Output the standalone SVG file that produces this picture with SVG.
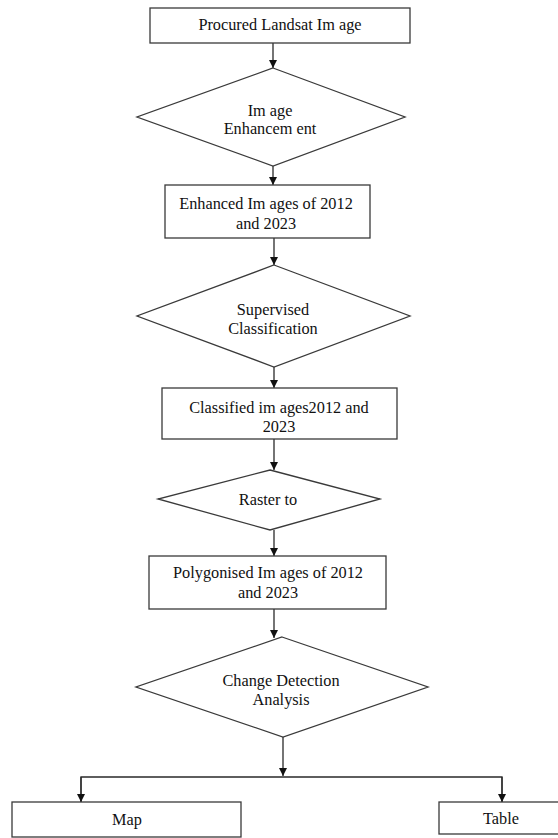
<svg xmlns="http://www.w3.org/2000/svg" width="558" height="838" viewBox="0 0 558 838">
<style>
.n{fill:#fff;stroke:#3a3a3a;stroke-width:1.3}
.t{font-family:"Liberation Serif","Times New Roman",serif;font-size:16.3px;fill:#111;text-anchor:middle}
.c{fill:none;stroke:#2a2a2a;stroke-width:1.3}
</style>
<defs>
<marker id="ah" viewBox="0 0 10 10" refX="10" refY="5" markerWidth="8" markerHeight="8" markerUnits="userSpaceOnUse" orient="auto">
<path d="M0,0 L10,5 L0,10 Z" fill="#111"/>
</marker>
</defs>
<rect width="558" height="838" fill="#fff"/>
<g id="connectors">
<line class="c" x1="273" y1="43" x2="273" y2="68" marker-end="url(#ah)"/>
<line class="c" x1="273" y1="166" x2="273" y2="185" marker-end="url(#ah)"/>
<line class="c" x1="274" y1="238" x2="274" y2="265" marker-end="url(#ah)"/>
<line class="c" x1="274" y1="367" x2="274" y2="388" marker-end="url(#ah)"/>
<line class="c" x1="274" y1="439" x2="274" y2="470" marker-end="url(#ah)"/>
<line class="c" x1="274" y1="530" x2="274" y2="556" marker-end="url(#ah)"/>
<line class="c" x1="274" y1="609" x2="274" y2="638" marker-end="url(#ah)"/>
<line class="c" x1="283" y1="737" x2="283" y2="776" marker-end="url(#ah)"/>
<polyline class="c" points="81,802 81,777 502,777 502,802"/>
<line class="c" x1="81" y1="777" x2="81" y2="802" marker-end="url(#ah)"/>
<line class="c" x1="502" y1="777" x2="502" y2="802" marker-end="url(#ah)"/>
</g>
<g id="procured">
<rect class="n" x="150" y="8" width="260" height="35"/>
<text class="t" x="280" y="30">Procured Landsat Im age</text>
</g>
<g id="enhancement">
<polygon class="n" points="273,68 405,117 273,166 137,117"/>
<text class="t" x="270" y="116">Im age</text>
<text class="t" x="270" y="134">Enhancem ent</text>
</g>
<g id="enhanced">
<rect class="n" x="165" y="185" width="205" height="53"/>
<text class="t" x="266" y="209">Enhanced Im ages of 2012</text>
<text class="t" x="266" y="229">and 2023</text>
</g>
<g id="supervised">
<polygon class="n" points="274,265 410,316 274,367 137,316"/>
<text class="t" x="273" y="315">Supervised</text>
<text class="t" x="273" y="334">Classification</text>
</g>
<g id="classified">
<rect class="n" x="162" y="388" width="235" height="51"/>
<text class="t" x="279" y="413">Classified im ages2012 and</text>
<text class="t" x="279" y="432">2023</text>
</g>
<g id="raster">
<polygon class="n" points="270,470 380,499 270,530 158,499"/>
<text class="t" x="268" y="505">Raster to</text>
</g>
<g id="polygonised">
<rect class="n" x="149" y="556" width="237" height="53"/>
<text class="t" x="268" y="578">Polygonised Im ages of 2012</text>
<text class="t" x="268" y="598">and 2023</text>
</g>
<g id="change">
<polygon class="n" points="282,637 428,687 283,737 136,687"/>
<text class="t" x="281" y="686">Change Detection</text>
<text class="t" x="281" y="705">Analysis</text>
</g>
<g id="map">
<rect class="n" x="12" y="802" width="229" height="35"/>
<text class="t" x="127" y="825">Map</text>
</g>
<g id="table">
<rect class="n" x="439" y="802" width="125" height="32"/>
<text class="t" x="501" y="824">Table</text>
</g>
</svg>
